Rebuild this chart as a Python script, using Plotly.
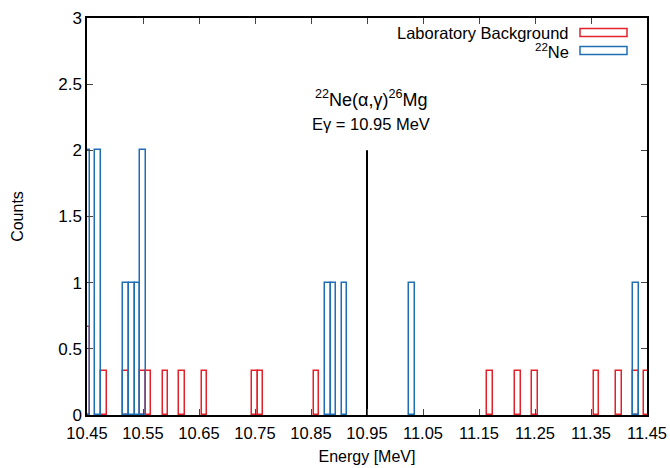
import plotly.graph_objects as go

# ---- data ----
bin_width = 0.01
bg_energy = [10.45, 10.48, 10.52, 10.55, 10.56, 10.59, 10.62, 10.66, 10.75, 10.76,
             10.86, 11.17, 11.22, 11.25, 11.36, 11.40, 11.43, 11.45]
bg_counts = [0.667] + [0.333] * 17

ne_energy = [10.45, 10.47, 10.52, 10.53, 10.54, 10.55, 10.88, 10.89, 10.91, 11.03, 11.43]
ne_counts = [2, 2, 1, 1, 1, 2, 1, 1, 1, 1, 1]

line_energy = [10.95, 10.95]
line_counts = [0, 2]

x_ticks = [10.45, 10.55, 10.65, 10.75, 10.85, 10.95, 11.05, 11.15, 11.25, 11.35, 11.45]
x_ticklabels = ["%.2f" % v for v in x_ticks]
y_ticks = [0, 0.5, 1, 1.5, 2, 2.5, 3]

RED = "#e4202a"
BLUE = "#1f6fb5"
FONT = "Liberation Sans, Arial, Helvetica, sans-serif"

fig = go.Figure()
fig.add_trace(go.Bar(x=bg_energy, y=bg_counts, width=bin_width,
                     marker=dict(color="rgba(0,0,0,0)", line=dict(color=RED, width=1.5)),
                     name="Laboratory Background", showlegend=False))
fig.add_trace(go.Bar(x=ne_energy, y=ne_counts, width=bin_width,
                     marker=dict(color="rgba(0,0,0,0)", line=dict(color=BLUE, width=1.5)),
                     name="<sup>22</sup>Ne", showlegend=False))
fig.add_trace(go.Scatter(x=line_energy, y=line_counts, mode="lines",
                         line=dict(color="black", width=2), showlegend=False))

fig.update_layout(
    width=670, height=468,
    margin=dict(l=87, r=23, t=18, b=53),
    plot_bgcolor="white", paper_bgcolor="white",
    barmode="overlay", bargap=0,
    font=dict(family=FONT, size=16, color="black"),
    xaxis=dict(range=[10.45, 11.45], tickvals=x_ticks, ticktext=x_ticklabels,
               ticks="inside", ticklen=6, tickcolor="#444", mirror="ticks",
               showline=True, linecolor="black", linewidth=1.5, showgrid=False,
               zeroline=False, automargin=False, tickfont=dict(size=16.5),
               ticklabelstandoff=2,
               title=dict(text="Energy [MeV]", standoff=10, font=dict(size=16))),
    yaxis=dict(range=[0, 3], tickvals=y_ticks,
               ticks="inside", ticklen=6, tickcolor="#444", mirror="ticks",
               showline=True, linecolor="black", linewidth=1.5, showgrid=False,
               zeroline=False, automargin=False, tickfont=dict(size=17),
               title=dict(text="Counts", standoff=31, font=dict(size=16))),
)

# annotation text
fig.add_annotation(x=10.957, y=2.39, xref="x", yref="y", showarrow=False,
                   text="<sup>22</sup>Ne(α,γ)<sup>26</sup>Mg", font=dict(size=18),
                   xanchor="center", yanchor="middle")
fig.add_annotation(x=10.957, y=2.2, xref="x", yref="y", showarrow=False,
                   text="Eγ = 10.95 MeV", font=dict(size=16.5),
                   xanchor="center", yanchor="middle")

# legend (drawn manually, gnuplot style: text then sample box)
def px_x(p):
    return (p - 87) / (670 - 87 - 23)

def px_y(p):
    return 1 - (p - 18) / (468 - 18 - 53)

legend_items = [("Laboratory Background", RED, 32.5), ("<sup>22</sup>Ne", BLUE, 50.5)]
for label, col, yc in legend_items:
    fig.add_annotation(x=px_x(571), y=px_y(yc), xref="paper", yref="paper",
                       showarrow=False, text=label, xanchor="right", yanchor="middle",
                       font=dict(size=16.5))
    fig.add_shape(type="rect", xref="paper", yref="paper",
                  x0=px_x(580), x1=px_x(627), y0=px_y(yc - 4), y1=px_y(yc + 4),
                  line=dict(color=col, width=1.5), fillcolor="rgba(0,0,0,0)")

fig.write_html("out.html")
